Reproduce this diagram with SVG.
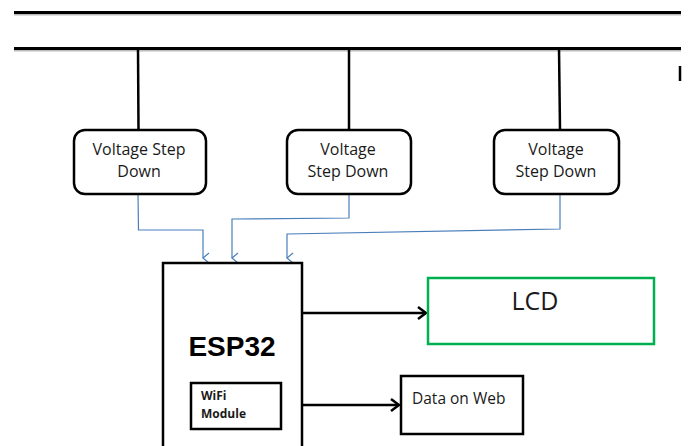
<svg xmlns="http://www.w3.org/2000/svg" width="691" height="446" viewBox="0 0 691 446">
<style>
.bus{stroke:#000;stroke-width:3;fill:none}
.shadow{stroke:#bbb;stroke-width:2;fill:none}
.drop{stroke:#000;stroke-width:2.5;fill:none}
.vsd{fill:#fff;stroke:#000;stroke-width:2.5}
.blue{stroke:#4A7EBB;stroke-width:1.2;fill:none}
.blk{stroke:#000;stroke-width:2.5;fill:none}
.t{font-family:"Open Sans","Liberation Sans",sans-serif;fill:#1a1a1a}
.box{fill:#fff;stroke:#000;stroke-width:2.5}
</style>
<defs>
<marker id="bArrow" markerWidth="12" markerHeight="12" refX="6" refY="10" orient="auto" markerUnits="userSpaceOnUse" viewBox="0 0 12 12">
<path d="M1,4 L6,10 L11,4" fill="none" stroke="#4A7EBB" stroke-width="1.2"/>
</marker>
<marker id="kArrow" markerWidth="14" markerHeight="14" refX="12" refY="7" orient="auto" markerUnits="userSpaceOnUse" viewBox="0 0 14 14">
<path d="M4,1 L12,7 L4,13" fill="none" stroke="#000" stroke-width="2.5"/>
</marker>
</defs>
<g id="bus">
<line class="shadow" x1="14" y1="14.5" x2="681" y2="14.5"/>
<line class="bus" x1="14" y1="12.5" x2="681" y2="12.5"/>
<line class="shadow" x1="14" y1="50.5" x2="681" y2="50.5"/>
<line class="bus" x1="14" y1="48.5" x2="681" y2="48.5"/>
<line x1="680" y1="66" x2="680" y2="81" stroke="#000" stroke-width="2.5"/>
</g>
<g id="connectors">
<line class="drop" x1="138" y1="48" x2="138.5" y2="130"/>
<line class="drop" x1="349" y1="48" x2="349" y2="130"/>
<line class="drop" x1="559" y1="48" x2="560" y2="130"/>
<polyline class="blue" points="138,194 138.5,230 203,230 203,258" marker-end="url(#bArrow)"/>
<polyline class="blue" points="349,194 349,218 232,219 232,258" marker-end="url(#bArrow)"/>
<polyline class="blue" points="560,194 560,229 287,234 287,258" marker-end="url(#bArrow)"/>
<line class="blk" x1="302" y1="313" x2="426" y2="313" marker-end="url(#kArrow)"/>
<line class="blk" x1="302" y1="405" x2="399" y2="405" marker-end="url(#kArrow)"/>
</g>
<g id="vsd1">
<rect class="vsd" x="74" y="130" width="132" height="64" rx="11"/>
<text class="t" font-size="16" text-anchor="middle" x="139" y="155">Voltage Step</text>
<text class="t" font-size="16" text-anchor="middle" x="139" y="177">Down</text>
</g>
<g id="vsd2">
<rect class="vsd" x="287" y="130" width="124" height="64" rx="11"/>
<text class="t" font-size="16" text-anchor="middle" x="348" y="155">Voltage</text>
<text class="t" font-size="16" text-anchor="middle" x="348" y="177">Step Down</text>
</g>
<g id="vsd3">
<rect class="vsd" x="494" y="130" width="125" height="64" rx="11"/>
<text class="t" font-size="16" text-anchor="middle" x="556" y="155">Voltage</text>
<text class="t" font-size="16" text-anchor="middle" x="556" y="177">Step Down</text>
</g>
<g id="esp32">
<rect class="box" x="163" y="263" width="139" height="200"/>
<text font-family="'Liberation Sans',Arial,sans-serif" font-size="28" font-weight="bold" text-anchor="middle" x="232" y="356" fill="#000">ESP32</text>
</g>
<g id="wifi">
<rect class="box" x="191" y="383" width="90" height="46"/>
<text class="t" font-size="12" font-weight="bold" x="201" y="400">WiFi</text>
<text class="t" font-size="12" font-weight="bold" x="201" y="418">Module</text>
</g>
<g id="lcd">
<rect x="428" y="278" width="226" height="66" fill="#fff" stroke="#00B050" stroke-width="2.5"/>
<text class="t" font-size="25" text-anchor="middle" x="535" y="310">LCD</text>
</g>
<g id="web">
<rect class="box" x="401" y="376" width="122" height="58"/>
<text class="t" font-size="15.5" x="412" y="404">Data on Web</text>
</g>
</svg>
